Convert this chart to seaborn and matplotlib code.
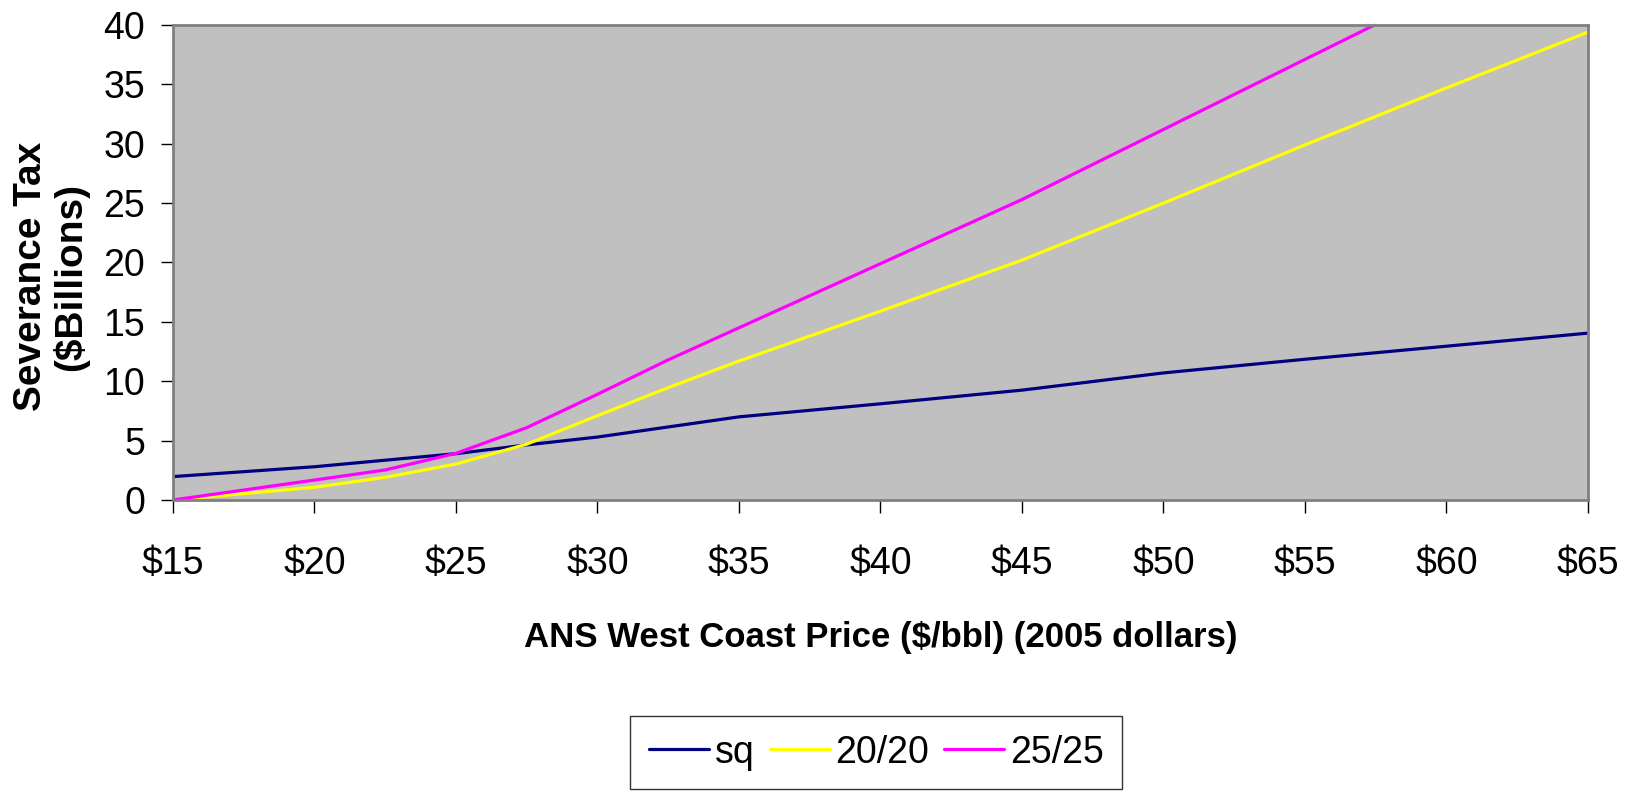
import matplotlib
matplotlib.use("Agg")
import matplotlib.pyplot as plt
import pandas as pd
import seaborn as sns

prices = [15, 20, 22.5, 25, 27.5, 30, 32.5, 35, 40, 45, 50, 55, 60, 65]
sq = [1.97, 2.8, 3.35, 3.9, 4.64, 5.3, 6.15, 7.0, 8.1, 9.25, 10.7, 11.85, 12.95, 14.05]
tax_20_20 = [0, 1.07, 1.91, 3.03, 4.7, 7.1, 9.46, 11.7, 15.9, 20.2, 25.0, 29.9, 34.7, 39.4]
tax_25_25 = [0, 1.68, 2.53, 3.93, 6.09, 8.9, 11.8, 14.5, 19.9, 25.3, 31.2, 37.1, 43.0, 48.9]
scenarios = ["sq", "20/20", "25/25"]
colors = ["#000080", "#FFFF00", "#FF00FF"]
x_ticks = [15, 20, 25, 30, 35, 40, 45, 50, 55, 60, 65]
x_tick_labels = [f"${v}" for v in x_ticks]
y_ticks = [0, 5, 10, 15, 20, 25, 30, 35, 40]

df = pd.DataFrame(
    {
        "price": prices * 3,
        "tax": sq + tax_20_20 + tax_25_25,
        "scenario": [s for s in scenarios for _ in prices],
    }
)

sns.set_style("ticks")
plt.rcParams["font.family"] = ["Liberation Sans", "DejaVu Sans"]
plt.rcParams["text.color"] = "black"
plt.rcParams["xtick.color"] = "black"
plt.rcParams["ytick.color"] = "black"
plt.rcParams["axes.labelcolor"] = "black"

fig = plt.figure(figsize=(16.32, 7.93), dpi=100)
ax = fig.add_axes([0.106, 0.3695, 0.867, 0.599])
ax.set_facecolor("#C0C0C0")

sns.lineplot(
    data=df,
    x="price",
    y="tax",
    hue="scenario",
    hue_order=scenarios,
    palette=colors,
    linewidth=2.3,
    legend=False,
    ax=ax,
)

ax.set_xlim(15, 65)
ax.set_ylim(0, 40)
ax.set_xticks(x_ticks)
ax.set_xticklabels(x_tick_labels)
ax.set_yticks(y_ticks)
ax.tick_params(axis="both", labelsize=27, length=9, width=1, color="black",
               labelcolor="black", direction="out")
ax.tick_params(axis="x", pad=24)
ax.tick_params(axis="y", pad=11)
for spine in ax.spines.values():
    spine.set_visible(True)
    spine.set_color("#808080")
    spine.set_linewidth(2)

ax.set_xlabel(
    "ANS West Coast Price ($/bbl) (2005 dollars)",
    fontsize=25,
    fontweight="bold",
    va="center",
)
ax.xaxis.set_label_coords(0.5, -0.29)
ax.set_ylabel(
    "Severance Tax\n($Billions)",
    fontsize=28,
    fontweight="bold",
    va="center",
    ha="center",
    linespacing=1.1,
)
ax.yaxis.set_label_coords(-0.086, 0.47)

handles = [plt.Line2D([], [], color=c, linewidth=2.3) for c in colors]
leg = fig.legend(
    handles,
    scenarios,
    loc="center",
    bbox_to_anchor=(0.537, 0.051),
    ncol=3,
    fontsize=27,
    frameon=True,
    fancybox=False,
    handlelength=1.6,
    handletextpad=0.15,
    columnspacing=0.4,
    borderpad=0.5,
)
leg.get_frame().set_edgecolor("black")
leg.get_frame().set_linewidth(1)

fig.savefig("out.png", dpi=100)
